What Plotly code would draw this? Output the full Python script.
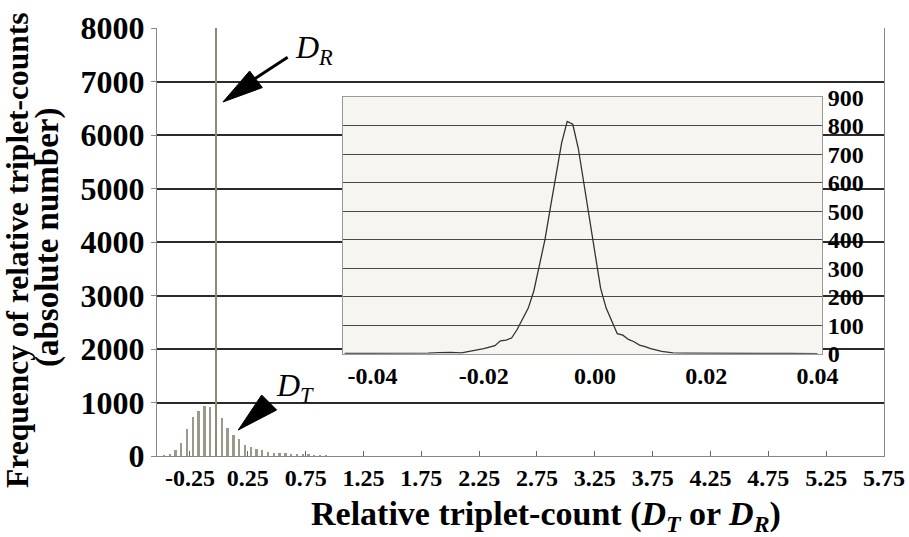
import plotly.graph_objects as go

# ---------------- data ----------------
# main histogram of D_T (bin width 0.05, bin centres)
dt_bins = [-0.475, -0.425, -0.375, -0.325, -0.275, -0.225, -0.175, -0.125, -0.075, -0.025,
           0.025, 0.075, 0.125, 0.175, 0.225, 0.275, 0.325, 0.375, 0.425, 0.475,
           0.525, 0.575, 0.625, 0.675, 0.725, 0.775, 0.825, 0.875, 0.925]
dt_counts = [8, 30, 115, 248, 500, 725, 850, 928, 915, 900,
             710, 518, 390, 315, 210, 165, 128, 110, 80, 62,
             52, 48, 42, 38, 31, 25, 18, 12, 6]
# D_R falls into a single bin (line reaching the top of the axis)
dr_bins = [-0.025]
dr_counts = [8000]

# inset: distribution of D_R
inset_x = [-0.045, -0.040, -0.035, -0.030, -0.028, -0.026, -0.024, -0.022, -0.020, -0.018,
           -0.017, -0.016, -0.015, -0.014, -0.013, -0.012, -0.011, -0.010, -0.009, -0.008,
           -0.007, -0.006, -0.005, -0.004, -0.003, -0.002, -0.001, 0.000, 0.001, 0.002,
           0.003, 0.004, 0.005, 0.006, 0.007, 0.008, 0.009, 0.010, 0.012, 0.014,
           0.016, 0.020, 0.025, 0.030, 0.035, 0.040]
inset_y = [1, 1, 1, 2, 4, 5, 3, 10, 18, 28,
           45, 48, 55, 85, 120, 160, 220, 310, 400, 515,
           635, 740, 815, 805, 720, 600, 470, 345, 230, 160,
           115, 70, 65, 50, 42, 30, 25, 18, 8, 3,
           2, 1, 1, 1, 1, 0]

main_xticks = [-0.25, 0.25, 0.75, 1.25, 1.75, 2.25, 2.75, 3.25, 3.75, 4.25, 4.75, 5.25, 5.75]
main_yticks = [0, 1000, 2000, 3000, 4000, 5000, 6000, 7000, 8000]
inset_xticks = [-0.04, -0.02, 0.00, 0.02, 0.04]
inset_yticks = [0, 100, 200, 300, 400, 500, 600, 700, 800, 900]

SERIF = "Liberation Serif"
INSET_BG = "#f7f5f0"

fig = go.Figure()
fig.add_trace(go.Bar(x=dt_bins, y=dt_counts, width=0.02, marker=dict(color="#9c988a", line=dict(width=0)),
                     xaxis="x", yaxis="y", showlegend=False))
fig.add_trace(go.Bar(x=dr_bins, y=dr_counts, width=0.016, marker=dict(color="#8c8b77", line=dict(width=0)),
                     xaxis="x", yaxis="y", showlegend=False))
fig.add_trace(go.Scatter(x=inset_x, y=inset_y, mode="lines", line=dict(color="#333333", width=1.3),
                         xaxis="x2", yaxis="y2", showlegend=False))

W, H = 909, 537
L, R, T, B = 157, 25, 28, 81
pw, ph = W - L - R, H - T - B

def px_x(p):
    return (p - L) / pw

def px_y(p):
    return (H - B - p) / ph

fig.update_layout(
    width=W, height=H,
    margin=dict(l=L, r=R, t=T, b=B, autoexpand=False),
    paper_bgcolor="white", plot_bgcolor=INSET_BG,
    barmode="overlay", bargap=0,
    font=dict(family=SERIF, color="black"),
    xaxis=dict(range=[-0.535, 5.75], tickvals=main_xticks, automargin=False,
               ticktext=[f"<b>{v:.2f}</b>" for v in main_xticks],
               ticks="inside", ticklen=5, tickcolor="#666", showgrid=False, zeroline=False,
               showline=True, linecolor="#888", linewidth=1,
               tickfont=dict(size=24, family=SERIF), ticklabelstandoff=0),
    yaxis=dict(range=[0, 8000], tickvals=main_yticks, automargin=False,
               ticktext=[f"<b>{v}</b>" for v in main_yticks],
               ticks="outside", ticklen=5, tickcolor="#888",
               showgrid=True, gridcolor="#2a2a2a", gridwidth=1.6, zeroline=False,
               showline=True, linecolor="#888", linewidth=1.2, mirror=True,
               tickfont=dict(size=32, family=SERIF)),
    xaxis2=dict(domain=[px_x(343), px_x(822)], anchor="y2", range=[-0.0453, 0.0408], automargin=False,
                tickvals=inset_xticks, ticktext=[f"<b>{v:.2f}</b>" for v in inset_xticks],
                ticks="", showgrid=False, zeroline=False, showline=True, linecolor="#999",
                linewidth=1, mirror=True, tickfont=dict(size=24, family=SERIF)),
    yaxis2=dict(domain=[px_y(353.7), px_y(97.2)], anchor="x2", side="right", range=[0, 900],
                automargin=False,
                tickvals=inset_yticks, ticktext=[f"<b>{v}</b>" for v in inset_yticks],
                ticks="", showgrid=True, gridcolor="#4a4a4a", gridwidth=1.3, zeroline=False,
                showline=True, linecolor="#999", linewidth=1, mirror=True,
                tickfont=dict(size=24, family=SERIF), ticklabelstandoff=0),
)

# white background for the main plot (the inset keeps the beige plot background)
fig.add_shape(type="rect", xref="x domain", yref="y domain", x0=0, x1=1, y0=0, y1=1,
              fillcolor="white", line=dict(width=0), layer="below")

# arrows (pixel-sized, anchored at tip in data coordinates)
fig.add_shape(type="path", xref="x", yref="y", xsizemode="pixel", ysizemode="pixel",
              xanchor=0.035, yanchor=6617, path="M0,0 L26.7,31 L39.4,14.4 Z",
              fillcolor="black", line=dict(color="black", width=1))
fig.add_shape(type="line", xref="x", yref="y", xsizemode="pixel", ysizemode="pixel",
              xanchor=0.035, yanchor=6617, x0=30, y0=22, x1=64.7, y1=44.7,
              line=dict(color="black", width=3))
fig.add_shape(type="path", xref="x", yref="y", xsizemode="pixel", ysizemode="pixel",
              xanchor=0.1675, yanchor=486, path="M0,0 L23.4,35 L38.4,20 Z",
              fillcolor="black", line=dict(color="black", width=1))

def note(x, y, text, size, angle=0):
    return dict(x=px_x(x), y=px_y(y), xref="paper", yref="paper", showarrow=False,
                xanchor="center", yanchor="middle", textangle=angle, text=text,
                font=dict(size=size, family=SERIF))

ann = [
    note(314, 49, "<i>D</i><sub><i>R</i></sub>", 32),
    note(295, 387, "<i>D</i><sub><i>T</i></sub>", 32),
    note(17, 250, "<b>Frequency of relative triplet-counts</b>", 31.5, -90),
    note(47, 238, "<b>(absolute number)</b>", 33, -90),
    note(546, 516, "<b>Relative triplet-count (<i>D</i><sub><i>T</i></sub> or <i>D</i><sub><i>R</i></sub>)</b>", 34),
]
fig.update_layout(annotations=ann)

fig.write_html("out.html", config={"displayModeBar": False},
               post_script="document.body.style.margin='0px';")
